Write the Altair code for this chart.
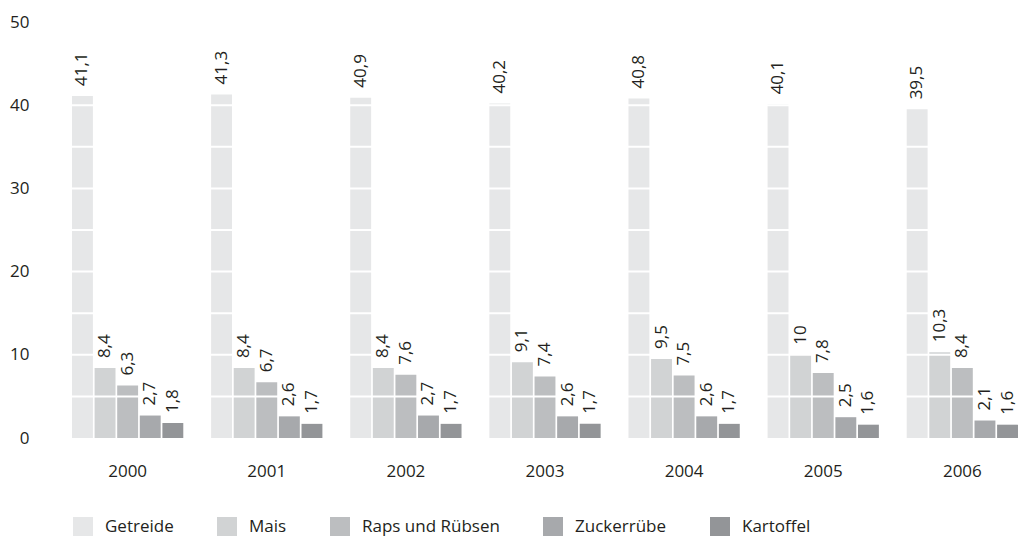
import altair as alt
import pandas as pd

years = ["2000", "2001", "2002", "2003", "2004", "2005", "2006"]
crops = ["Getreide", "Mais", "Raps und Rübsen", "Zuckerrübe", "Kartoffel"]
getreide = [41.1, 41.3, 40.9, 40.2, 40.8, 40.1, 39.5]
mais = [8.4, 8.4, 8.4, 9.1, 9.5, 10, 10.3]
raps = [6.3, 6.7, 7.6, 7.4, 7.5, 7.8, 8.4]
zucker = [2.7, 2.6, 2.7, 2.6, 2.6, 2.5, 2.1]
kartoffel = [1.8, 1.7, 1.7, 1.7, 1.7, 1.6, 1.6]
colors = ["#e6e7e8", "#d1d3d4", "#bcbec0", "#a7a9ac", "#939598"]
y_ticks = [0, 10, 20, 30, 40, 50]
grid_values = [5, 10, 15, 20, 25, 30, 35, 40, 45]

series = [getreide, mais, raps, zucker, kartoffel]
rows = []
for crop, vals in zip(crops, series):
    for yr, v in zip(years, vals):
        rows.append({"Jahr": yr, "Kultur": crop, "Wert": v})
df = pd.DataFrame(rows)
grid_df = pd.DataFrame({"g": grid_values})

FONT = "Open Sans"
TXT = "#231f20"

x_enc = alt.X("Jahr:N", sort=years,
              scale=alt.Scale(paddingInner=0.2, paddingOuter=0),
              axis=alt.Axis(title=None, labelAngle=0, ticks=False, domain=False,
                            labelPadding=25, labelFontSize=17, labelFont=FONT,
                            labelColor=TXT))
xo_enc = alt.XOffset("Kultur:N", sort=crops, scale=alt.Scale(paddingInner=0.075))
y_enc = alt.Y("Wert:Q", scale=alt.Scale(domain=[0, 50], nice=False),
              axis=alt.Axis(title=None, values=y_ticks, grid=False, ticks=False,
                            domain=False, labelPadding=43, labelFontSize=17,
                            labelFont=FONT, labelColor=TXT))

bars = alt.Chart(df).mark_bar().encode(
    x=x_enc,
    xOffset=xo_enc,
    y=y_enc,
    color=alt.Color("Kultur:N", sort=crops,
                    scale=alt.Scale(domain=crops, range=colors),
                    legend=alt.Legend(title=None)),
)

labels = alt.Chart(df).transform_calculate(
    label="replace(toString(datum.Wert), '.', ',')"
).mark_text(angle=270, align="left", baseline="middle", dx=10,
            fontSize=17, font=FONT, color=TXT).encode(
    x=alt.X("Jahr:N", sort=years),
    xOffset=alt.XOffset("Kultur:N", sort=crops),
    y=alt.Y("Wert:Q"),
    text="label:N",
)

grid = alt.Chart(grid_df).mark_rule(color="white", strokeWidth=2).encode(
    y=alt.Y("g:Q")
)

chart = alt.layer(bars, grid, labels).properties(
    width=946, height=416,
    padding={"left": 64, "top": 14, "right": 0, "bottom": 98},
    autosize=alt.AutoSizeParams(type="none"),
).configure_view(stroke=None).configure_legend(
    orient="none", legendX=1, legendY=495, direction="horizontal",
    symbolType="square", symbolSize=400, symbolStrokeWidth=0,
    labelOffset=12, columnPadding=43, labelFontSize=17, labelFont=FONT,
    labelColor=TXT, padding=0, symbolOpacity=1,
)

chart.save("out.html", embed_options={"renderer": "svg", "actions": False})
